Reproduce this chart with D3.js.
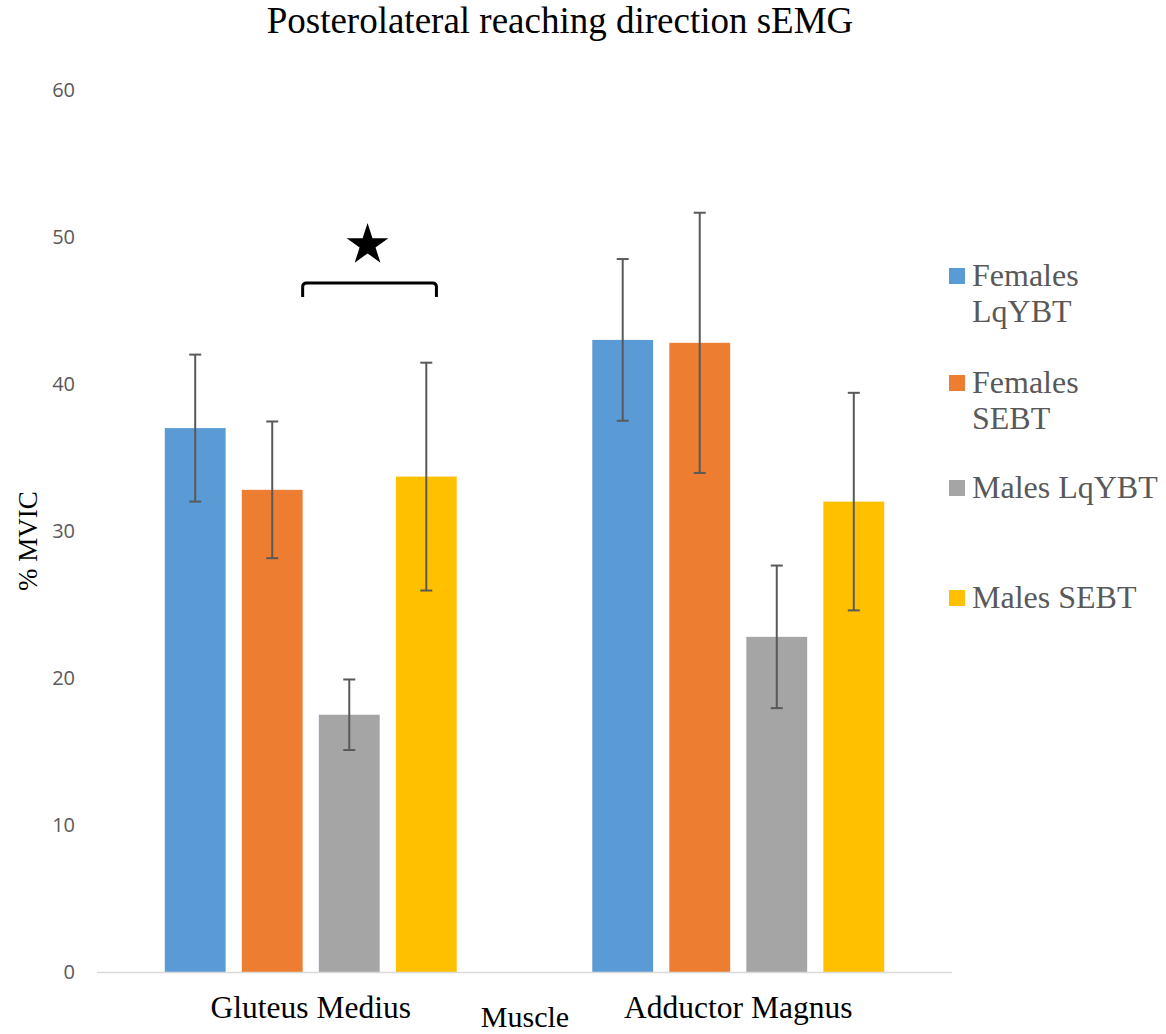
<!DOCTYPE html>
<html>
<head>
<meta charset="utf-8">
<script src="https://cdn.jsdelivr.net/npm/d3@7"></script>
<style>
  body { margin: 0; background: #fff; }
  svg { display: block; }
</style>
</head>
<body>
<svg id="chart" width="1166" height="1034"></svg>
<script>
// Mean %MVIC and standard deviation per muscle and group
const muscles = ["Gluteus Medius", "Adductor Magnus"];
const groups = ["Females LqYBT", "Females SEBT", "Males LqYBT", "Males SEBT"];
const colors = ["#5b9bd5", "#ed7d31", "#a5a5a5", "#ffc000"];
const means = [
  [37.0, 32.8, 17.5, 33.7],
  [43.0, 42.8, 22.8, 32.0]
];
const sds = [
  [5.0, 4.65, 2.4, 7.75],
  [5.5, 8.85, 4.85, 7.4]
];
const yTicks = [0, 10, 20, 30, 40, 50, 60];
const legendLines = [["Females", "LqYBT"], ["Females", "SEBT"], ["Males LqYBT"], ["Males SEBT"]];

const serif = "'Liberation Serif', 'Times New Roman', serif";
const svg = d3.select("#chart");
const plotLeft = 97, plotRight = 952, plotTop = 90, plotBottom = 972;

const x0 = d3.scaleBand().domain(muscles).range([plotLeft, plotRight]).paddingInner(0).paddingOuter(0);
const x1 = d3.scaleBand().domain(groups).range([0, x0.bandwidth()]).paddingInner(0.21).paddingOuter(0.88);
const y = d3.scaleLinear().domain([0, 60]).range([plotBottom, plotTop]);

// Title
svg.append("text")
  .attr("x", 560).attr("y", 33)
  .attr("text-anchor", "middle")
  .style("font-family", serif)
  .style("font-size", "37px").attr("fill", "#000")
  .text("Posterolateral reaching direction sEMG");

// Y axis tick labels
const yAxis = d3.axisLeft(y).tickValues(yTicks).tickSize(0).tickPadding(0);
const gy = svg.append("g").attr("transform", `translate(75,0)`).call(yAxis);
gy.select(".domain").remove();
gy.selectAll("text")
  .style("font-family", "'Open Sans', 'Noto Sans', sans-serif")
  .style("font-size", "20px").attr("fill", "#595959");

// Bars
const groupG = svg.append("g").selectAll("g").data(muscles).join("g")
  .attr("transform", d => `translate(${x0(d)},0)`);

groupG.selectAll("rect")
  .data((m, i) => groups.map((g, j) => ({ g, j, v: means[i][j], sd: sds[i][j] })))
  .join("rect")
  .attr("x", d => x1(d.g))
  .attr("width", x1.bandwidth())
  .attr("y", d => y(d.v))
  .attr("height", d => y(0) - y(d.v))
  .attr("fill", d => colors[d.j]);

// X axis baseline
svg.append("line")
  .attr("x1", plotLeft).attr("x2", plotRight)
  .attr("y1", y(0) + 0.5).attr("y2", y(0) + 0.5)
  .attr("stroke", "#d9d9d9").attr("stroke-width", 1.5);

// Error bars
const err = groupG.selectAll("g.err")
  .data((m, i) => groups.map((g, j) => ({ g, v: means[i][j], sd: sds[i][j] })))
  .join("g").attr("class", "err")
  .attr("stroke", "#595959").attr("stroke-width", 2);
err.append("line")
  .attr("x1", d => x1(d.g) + x1.bandwidth() / 2)
  .attr("x2", d => x1(d.g) + x1.bandwidth() / 2)
  .attr("y1", d => y(d.v + d.sd)).attr("y2", d => y(d.v - d.sd));
[1, -1].forEach(s => {
  err.append("line")
    .attr("x1", d => x1(d.g) + x1.bandwidth() / 2 - 6)
    .attr("x2", d => x1(d.g) + x1.bandwidth() / 2 + 6)
    .attr("y1", d => y(d.v + s * d.sd)).attr("y2", d => y(d.v + s * d.sd));
});

// Category labels
svg.append("g").selectAll("text").data(muscles).join("text")
  .attr("x", d => x0(d) + x0.bandwidth() / 2)
  .attr("y", 1018)
  .attr("text-anchor", "middle")
  .style("font-family", serif)
  .style("font-size", "31.5px").attr("fill", "#000")
  .text(d => d);

// X axis title
svg.append("text")
  .attr("x", 525).attr("y", 1027)
  .attr("text-anchor", "middle")
  .style("font-family", serif)
  .style("font-size", "30px").attr("fill", "#000")
  .text("Muscle");

// Y axis title
svg.append("text")
  .attr("transform", "translate(37,541) rotate(-90)")
  .attr("text-anchor", "middle")
  .style("font-family", serif)
  .style("font-size", "27px").attr("fill", "#000")
  .text("% MVIC");

// Significance bracket between Females SEBT and Males SEBT (Gluteus Medius)
const gm = x0(muscles[0]);
const bx1 = gm + x1(groups[1]) + x1.bandwidth();
const bx2 = gm + x1(groups[3]) + x1.bandwidth() * 2 / 3;
svg.append("path")
  .attr("d", `M${bx1},297 L${bx1},287 Q${bx1},283 ${bx1 + 4},283 L${bx2 - 4},283 Q${bx2},283 ${bx2},287 L${bx2},297`)
  .attr("fill", "none").attr("stroke", "#000").attr("stroke-width", 3);
svg.append("path")
  .attr("d", d3.symbol().type(d3.symbolStar).size(540)())
  .attr("transform", `translate(${(bx1 + bx2) / 2 - 2},245)`)
  .attr("fill", "#000");

// Legend
const legendY = [268, 375, 480, 590];
const lg = svg.append("g").selectAll("g").data(groups).join("g")
  .attr("transform", (d, i) => `translate(949,${legendY[i]})`);
lg.append("rect").attr("width", 16).attr("height", 16).attr("fill", (d, i) => colors[i]);
lg.append("text")
  .style("font-family", serif)
  .style("font-size", "32px").attr("fill", "#595959")
  .selectAll("tspan").data((d, i) => legendLines[i]).join("tspan")
  .attr("x", 23).attr("y", (d, k) => 18 + k * 36)
  .text(d => d);
</script>
</body>
</html>
